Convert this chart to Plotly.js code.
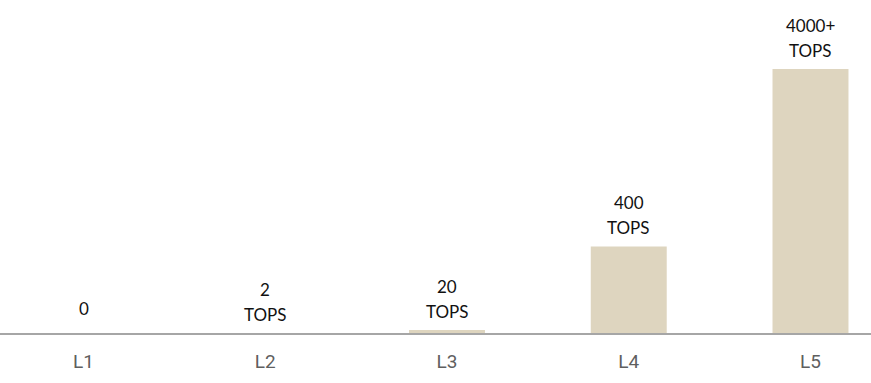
<!DOCTYPE html>
<html>
<head>
<meta charset="utf-8">
<script src="https://cdn.plot.ly/plotly-3.0.1.min.js"></script>
<style>
  html, body { margin: 0; padding: 0; background: #ffffff; }
  #chart { width: 871px; height: 383px; }
</style>
</head>
<body>
<div id="chart"></div>
<script>
// Autonomy levels
const levels = ['L1', 'L2', 'L3', 'L4', 'L5'];
// Relative bar heights as drawn (L5 = 100)
const barHeights = [0, 0, 1.1, 32.8, 100];
// Label text above each bar
const valueLabels = ['0', '2', '20', '400', '4000+'];
const unitLabels = ['', 'TOPS', 'TOPS', 'TOPS', 'TOPS'];

const labelFont = { family: 'Lato, "Open Sans", sans-serif', size: 17, color: '#111111' };

const annotations = [];
levels.forEach((lv, i) => {
  const hasUnit = unitLabels[i] !== '';
  if (hasUnit) {
    annotations.push({
      x: lv, y: barHeights[i], xref: 'x', yref: 'y',
      text: unitLabels[i], showarrow: false,
      yanchor: 'bottom', yshift: 6, font: labelFont
    });
  }
  annotations.push({
    x: lv, y: barHeights[i], xref: 'x', yref: 'y',
    text: valueLabels[i], showarrow: false,
    yanchor: 'bottom', yshift: hasUnit ? 31 : 12, font: labelFont
  });
});

const trace = {
  type: 'bar',
  x: levels,
  y: barHeights,
  width: 0.418,
  marker: { color: '#ded5bf', line: { width: 0 } },
  hoverinfo: 'skip'
};

const layout = {
  width: 871,
  height: 383,
  margin: { l: 0, r: 0, t: 0, b: 50, pad: 0 },
  paper_bgcolor: '#ffffff',
  plot_bgcolor: '#ffffff',
  showlegend: false,
  xaxis: {
    type: 'category',
    range: [-0.4594, 4.3329],
    showline: true,
    linecolor: '#a6a6a6',
    linewidth: 2,
    showgrid: false,
    zeroline: false,
    ticks: '',
    ticklabelstandoff: 10,
    tickfont: { family: 'Roboto, "Liberation Sans", sans-serif', size: 19, color: '#5f5f5f' },
    fixedrange: true
  },
  yaxis: {
    range: [0, 126.1],
    visible: false,
    showgrid: false,
    zeroline: false,
    fixedrange: true
  },
  annotations: annotations
};

Plotly.newPlot('chart', [trace], layout, { displayModeBar: false, staticPlot: true });
</script>
</body>
</html>
